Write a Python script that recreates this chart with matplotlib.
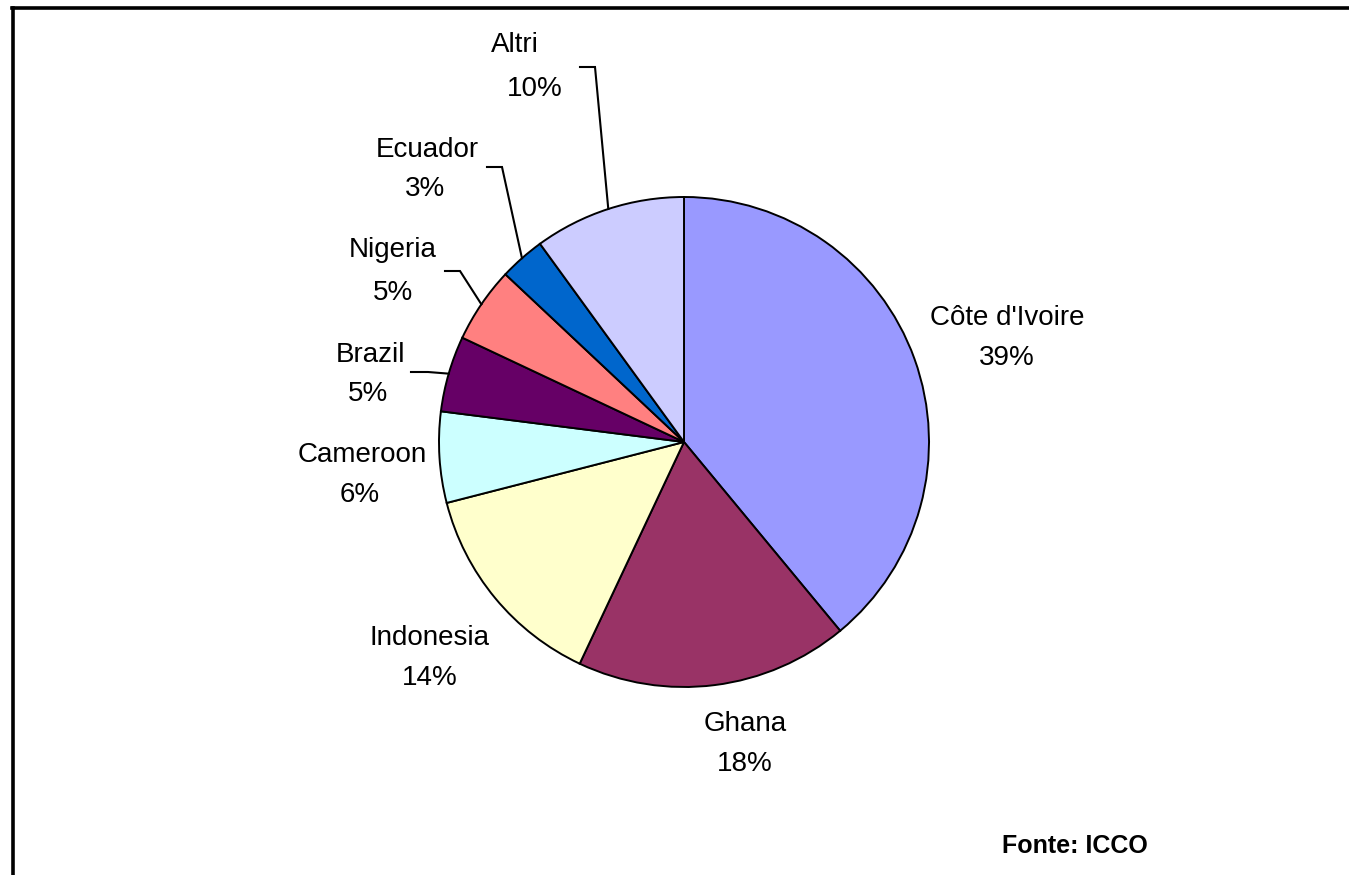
import matplotlib
matplotlib.use("Agg")
import matplotlib.pyplot as plt
import numpy as np

# data
countries = ["Côte d'Ivoire", "Ghana", "Indonesia", "Cameroon", "Brazil",
             "Nigeria", "Ecuador", "Altri"]
shares = [39, 18, 14, 6, 5, 5, 3, 10]
colors = ["#9999FF", "#993366", "#FFFFCC", "#CCFFFF", "#660066",
          "#FF8080", "#0066CC", "#CCCCFF"]

W, H = 1349, 875
plt.rcParams['font.family'] = ['Liberation Sans', 'DejaVu Sans']

fig = plt.figure(figsize=(W / 100, H / 100), dpi=100)
ax = fig.add_axes([0, 0, 1, 1])

cx, cy, r = 684, H - 442, 245
wedges, _ = ax.pie(shares, colors=colors, startangle=90, counterclock=False,
                   center=(cx, cy), radius=r, frame=True,
                   wedgeprops=dict(edgecolor='black', linewidth=1.4))
ax.set_xlim(0, W)
ax.set_ylim(0, H)
ax.set_aspect('equal')
ax.axis('off')

# label centre x and baselines in pixel coords (name line, percent line)
label_pos = {
    "Côte d'Ivoire": (1007, 325, 1007, 365),
    "Ghana": (745, 731, 745, 771),
    "Indonesia": (430, 645, 430, 685),
    "Cameroon": (362, 462, 360, 502),
    "Brazil": (370, 362, 368, 401),
    "Nigeria": (393, 257, 393, 300),
    "Ecuador": (427, 157, 425, 196),
    "Altri": (515, 52, 535, 96),
}
for name, val in zip(countries, shares):
    x1, y1, x2, y2 = label_pos[name]
    ax.text(x1, H - y1, name, ha='center', va='baseline', fontsize=20)
    ax.text(x2, H - y2, f"{val}%", ha='center', va='baseline', fontsize=20)

# leader lines: (start x, y, corner x) in pixels, end on wedge edge
leaders = {
    "Altri": (580, 67, 595),
    "Ecuador": (487, 167, 502),
    "Nigeria": (445, 271, 460),
    "Brazil": (411, 372, 428),
}
for w, name in zip(wedges, countries):
    if name not in leaders:
        continue
    sx, sy, kx = leaders[name]
    mid = np.deg2rad((w.theta1 + w.theta2) / 2)
    ex, ey = cx + r * np.cos(mid), cy + r * np.sin(mid)
    ax.plot([sx, kx, ex], [H - sy, H - sy, ey], color='black', linewidth=1.5,
            solid_joinstyle='miter')

ax.text(1075, H - 853, "Fonte: ICCO", ha='center', va='baseline',
        fontsize=18, fontweight='bold')

# outer frame (only left and top visible)
ax.plot([13, 13], [0, H - 8], color='black', linewidth=2.6, clip_on=False)
ax.plot([12, W], [H - 8, H - 8], color='black', linewidth=2.6, clip_on=False)

fig.savefig("out.png", dpi=100)
